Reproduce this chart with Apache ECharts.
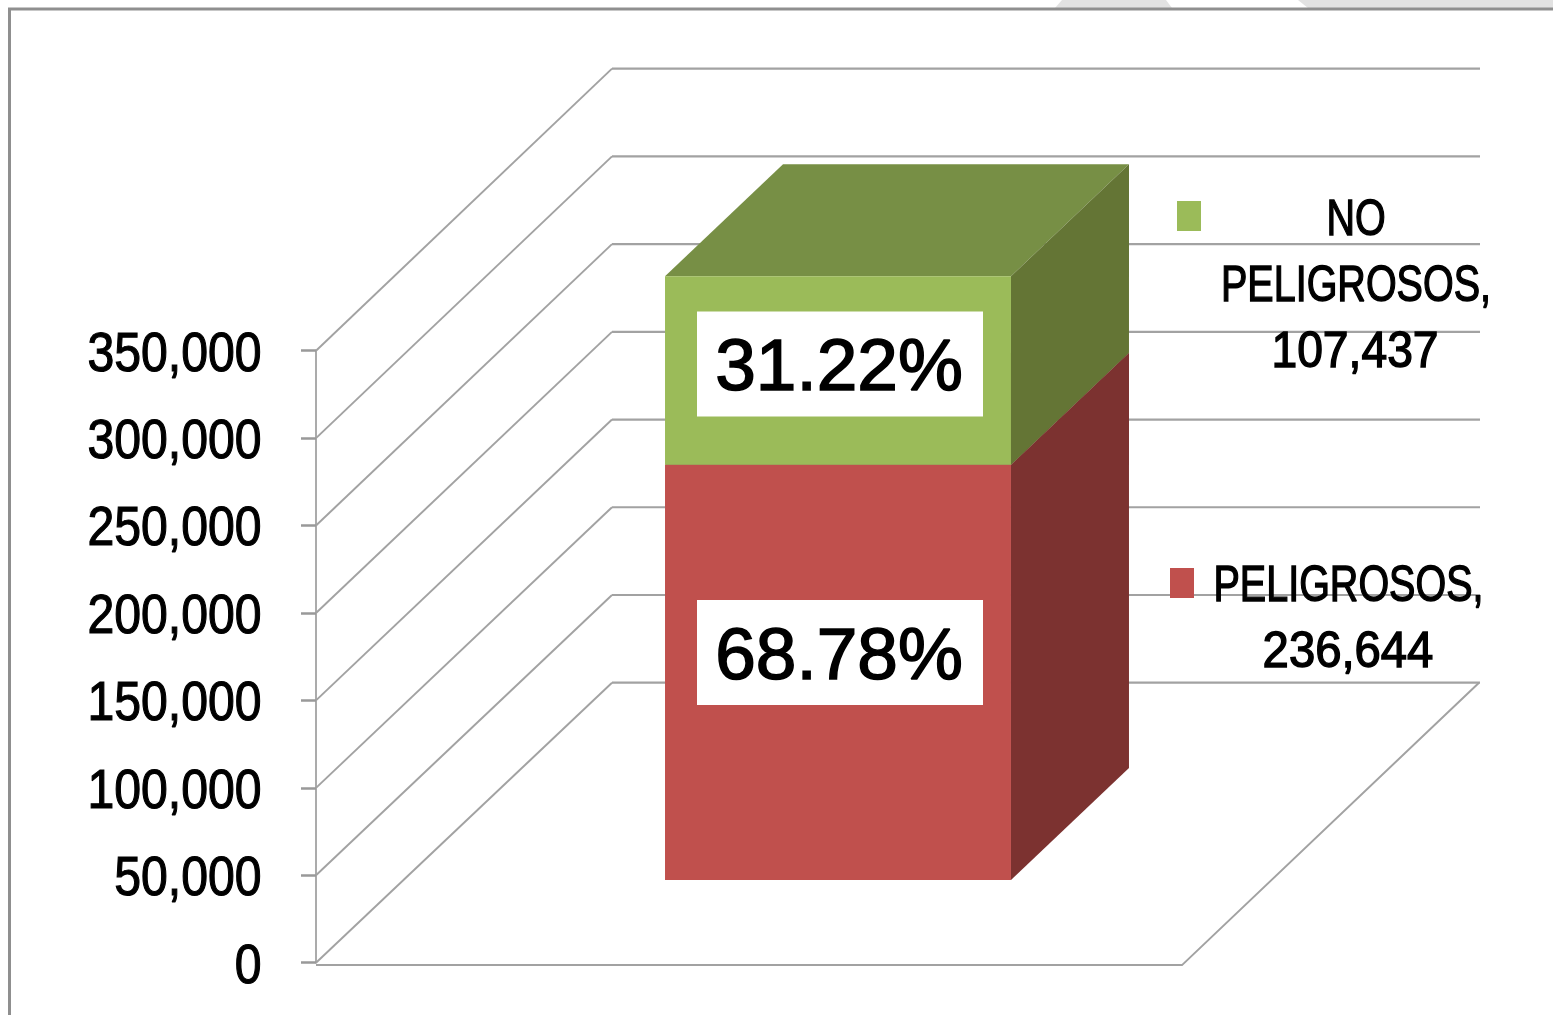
<!DOCTYPE html>
<html>
<head>
<meta charset="utf-8">
<title>Residuos</title>
<style>html,body{margin:0;padding:0;background:#fff;overflow:hidden}#chart{width:1553px;height:1015px}</style>
<script src="https://cdn.jsdelivr.net/npm/echarts@6/dist/echarts.min.js"></script>
</head>
<body>
<div id="chart"></div>
<script>
// ---- data ----
const categories = ['Residuos'];
const seriesNames = ['PELIGROSOS', 'NO PELIGROSOS'];
const peligrosos = [236644];
const noPeligrosos = [107437];
const axisTicks = [0, 50000, 100000, 150000, 200000, 250000, 300000, 350000];

// ---- projection and style constants ----
const WALL = [296, -280];          // front plane -> back wall
const BACK_STRETCH = 1.0033;       // back planes are very slightly taller than the front axis
const BAR_FRONT = [89, -82.7];     // front plane -> bar front face
const BAR_DEPTH = [118, -112];     // bar front face -> bar back face
const BAR_WIDTH = 0.3995;          // share of the category band
const GRID_LINE = '#a2a2a2';
const TEXT_FONT = '"Liberation Sans",Arial,sans-serif';
const fmt = v => v.toLocaleString('en-US');
const total = peligrosos[0] + noPeligrosos[0];

function wallRender(params, api) {
  const v = api.value(0);
  const p = api.coord([0, v]);
  const zero = api.coord([0, 0])[1];
  const w = api.size([1, 0])[0];
  const left = p[0] - w / 2;
  const backY = zero + (p[1] - zero) * BACK_STRETCH + WALL[1];
  const backX = left + WALL[0];
  const children = [
    {type: 'line', shape: {x1: left, y1: p[1], x2: backX, y2: backY},
      style: {stroke: GRID_LINE, lineWidth: 1.9}},
    {type: 'line', shape: {x1: backX, y1: backY, x2: backX + w + 2, y2: backY},
      style: {stroke: GRID_LINE, lineWidth: 2.2}},
    {type: 'text', x: left - 54.5, y: p[1] + 4.5, scaleX: 0.86,
      style: {text: fmt(v), align: 'right', verticalAlign: 'middle',
        font: '56px ' + TEXT_FONT, fill: '#000', stroke: '#000', lineWidth: 1.2}}
  ];
  if (v === 0) {
    const f = p[1] + 2.4;
    children.push({type: 'polyline',
      shape: {points: [[left, f], [left + w, f], [backX + w + 1, backY]]},
      style: {stroke: GRID_LINE, lineWidth: 2, fill: 'none'}});
  }
  return {type: 'group', children};
}

function barRender(colors, labelLift) {
  return function (params, api) {
    const from = api.value(1), to = api.value(2);
    const band = api.size([1, 0])[0];
    const zero = api.coord([0, 0])[1];
    const cx = api.coord([api.value(0), 0])[0] + BAR_FRONT[0];
    const half = band * BAR_WIDTH / 2;
    const y0 = zero + (api.coord([0, from])[1] - zero) * BACK_STRETCH + BAR_FRONT[1];
    const y1 = zero + (api.coord([0, to])[1] - zero) * BACK_STRETCH + BAR_FRONT[1];
    const l = cx - half, r = cx + half, dx = BAR_DEPTH[0], dy = BAR_DEPTH[1];
    const my = (y0 + y1) / 2 - labelLift;
    return {type: 'group', children: [
      {type: 'polygon', shape: {points: [[l, y1], [r, y1], [r + dx, y1 + dy], [l + dx, y1 + dy]]},
        style: {fill: colors.top}},
      {type: 'polygon', shape: {points: [[r, y0], [r + dx, y0 + dy], [r + dx, y1 + dy], [r, y1]]},
        style: {fill: colors.side}},
      {type: 'rect', shape: {x: l, y: y1, width: r - l, height: y0 - y1},
        style: {fill: colors.front}},
      {type: 'rect', shape: {x: cx - 141, y: my - 52.5, width: 286, height: 105},
        style: {fill: '#fff'}},
      {type: 'text', x: cx + 1, y: my + 6,
        style: {text: ((to - from) / total * 100).toFixed(2) + '%', align: 'center', verticalAlign: 'middle',
          font: '73px ' + TEXT_FONT, fill: '#000', stroke: '#000', lineWidth: 1.6}}
    ]};
  };
}

function legendText(x, y, text, sx) {
  return {type: 'text', x: x, y: y, z: 10, silent: true, scaleX: sx,
    style: {text: text, align: 'center', verticalAlign: 'middle', font: '50px ' + TEXT_FONT, lineHeight: 66, fill: '#000',
      stroke: '#000', lineWidth: 1.4}};
}

const option = {
  animation: false,
  backgroundColor: '#ffffff',
  grid: {left: 316, right: 371, top: 350.7, bottom: 52.3, containLabel: false},
  xAxis: {type: 'category', data: categories, show: false},
  yAxis: {
    type: 'value', min: 0, max: 350000, interval: 50000,
    axisLine: {show: true, lineStyle: {color: GRID_LINE, width: 1.8}},
    axisTick: {show: true, length: 15, lineStyle: {color: '#999999', width: 2.5}},
    splitLine: {show: false},
    axisLabel: {show: false}
  },
  series: [
    {type: 'custom', name: 'rejilla', silent: true, z: 1, renderItem: wallRender,
      data: axisTicks.map(v => [v])},
    {type: 'custom', name: seriesNames[0], silent: true, z: 2,
      renderItem: barRender({front: '#C0504D', side: '#7C3230', top: '#7C3230'}, 20),
      data: peligrosos.map((v, i) => [i, 0, v])},
    {type: 'custom', name: seriesNames[1], silent: true, z: 3,
      renderItem: barRender({front: '#9BBB59', side: '#647535', top: '#778F45'}, 6.5),
      data: noPeligrosos.map((v, i) => [i, peligrosos[i], peligrosos[i] + v])}
  ],
  graphic: {elements: [
    {type: 'polygon', silent: true, z: 0, shape: {points: [[1062, 0], [1166, 0], [1172, 8], [1055, 8]]}, style: {fill: '#e2e2e2'}},
    {type: 'polygon', silent: true, z: 0, shape: {points: [[1298, 0], [1553, 0], [1553, 8], [1308, 8]]}, style: {fill: '#e2e2e2'}},
    {type: 'polyline', silent: true, z: 0, shape: {points: [[9.5, 1015], [9.5, 9], [1553, 9]]},
      style: {stroke: '#8f8f8f', lineWidth: 3, fill: 'none'}},
    {type: 'rect', silent: true, z: 10, shape: {x: 1177, y: 201, width: 24, height: 30}, style: {fill: '#9BBB59'}},
    {type: 'rect', silent: true, z: 10, shape: {x: 1170, y: 568, width: 24, height: 30}, style: {fill: '#C0504D'}},
    legendText(1356, 254.5, 'NO\nPELIGROSOS,', 0.79),
    legendText(1355, 353.5, fmt(noPeligrosos[0]), 0.925),
    legendText(1348.5, 587, 'PELIGROSOS,', 0.79),
    legendText(1348, 653, fmt(peligrosos[0]), 0.945)
  ]}
};
const chart = echarts.init(document.getElementById('chart'), null, {renderer: 'canvas'});
chart.setOption(option);
</script>
</body>
</html>
